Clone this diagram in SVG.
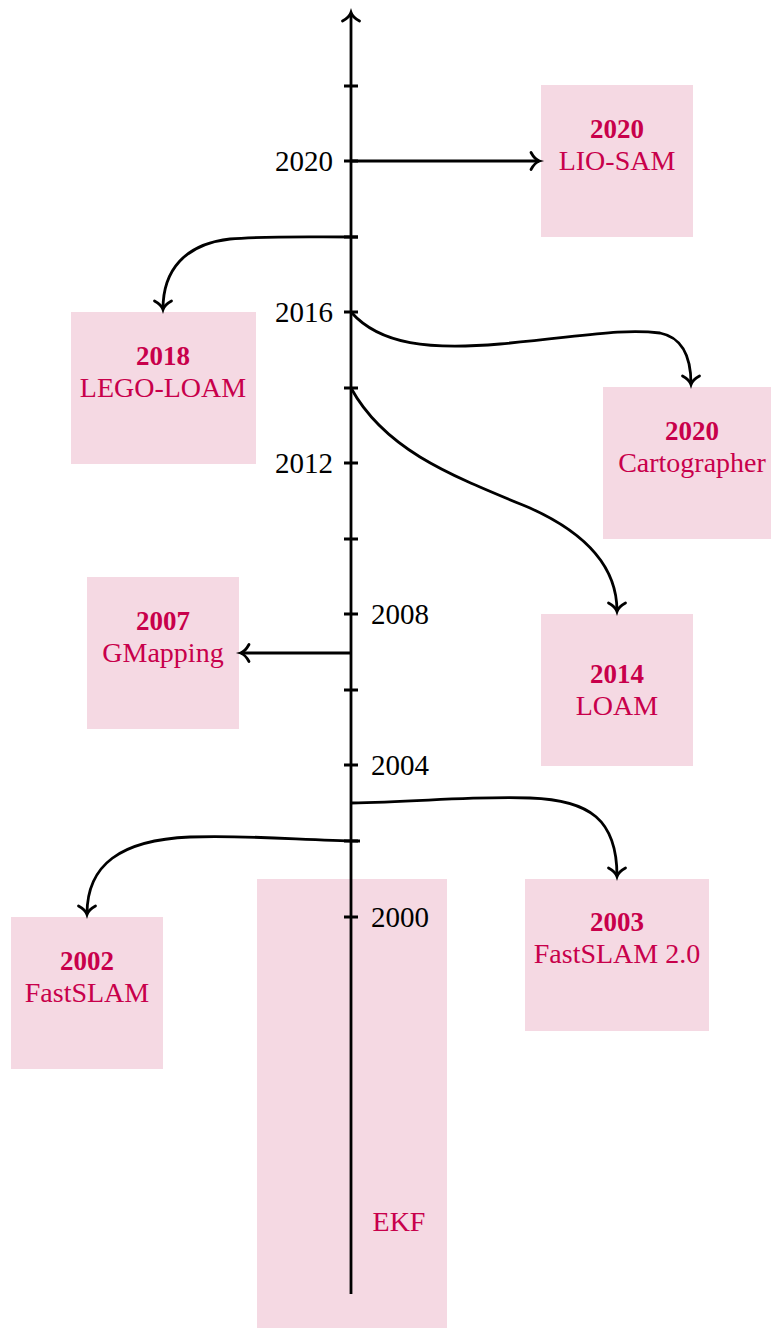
<svg xmlns="http://www.w3.org/2000/svg" width="771" height="1328" viewBox="0 0 771 1328">
<style>
.box{fill:#f5d9e3}
.t{font-family:"Liberation Serif","DejaVu Serif",serif;font-size:28px;fill:#c8004b;text-anchor:middle}
.b{font-weight:bold;font-size:27px}
.ax{font-family:"Liberation Serif","DejaVu Serif",serif;font-size:29px;fill:#000}
.ln{fill:none;stroke:#000;stroke-width:2.8}
</style>
<defs>
<marker id="arr" markerUnits="userSpaceOnUse" markerWidth="24" markerHeight="24" viewBox="-12 -12 24 24" refX="0" refY="0" orient="auto" overflow="visible">
<path d="M -8 -8.5 C -5 -3 -2 -0.8 0.5 0 C -2 0.8 -5 3 -8 8.5" fill="none" stroke="#000" stroke-width="2.8" stroke-linecap="round"/>
</marker>
</defs>
<g id="node-ekf"><rect class="box" x="257" y="879" width="190" height="449"/><text class="t" x="399" y="1231">EKF</text></g>
<g id="node-liosam"><rect class="box" x="541" y="85" width="152" height="152"/><text class="t b" x="617" y="138">2020</text><text class="t" x="617" y="170">LIO-SAM</text></g>
<g id="node-legoloam"><rect class="box" x="71" y="312" width="185" height="152"/><text class="t b" x="163" y="365">2018</text><text class="t" x="163" y="397">LEGO-LOAM</text></g>
<g id="node-cartographer"><rect class="box" x="603" y="387" width="168" height="152"/><text class="t b" x="692" y="440">2020</text><text class="t" x="692" y="472">Cartographer</text></g>
<g id="node-gmapping"><rect class="box" x="87" y="577" width="152" height="152"/><text class="t b" x="163" y="630">2007</text><text class="t" x="163" y="662">GMapping</text></g>
<g id="node-loam"><rect class="box" x="541" y="614" width="152" height="152"/><text class="t b" x="617" y="683">2014</text><text class="t" x="617" y="715">LOAM</text></g>
<g id="node-fastslam2"><rect class="box" x="525" y="879" width="184" height="152"/><text class="t b" x="617" y="931">2003</text><text class="t" x="617" y="963">FastSLAM 2.0</text></g>
<g id="node-fastslam"><rect class="box" x="11" y="917" width="152" height="152"/><text class="t b" x="87" y="970">2002</text><text class="t" x="87" y="1002">FastSLAM</text></g>
<g id="axis">
<line class="ln" x1="351" y1="1294" x2="351" y2="13" marker-end="url(#arr)"/>
<path class="ln" d="M344 86H358M344 161H358M344 237H358M344 312H358M344 388H358M344 463H358M344 539H358M344 614H358M344 690H358M344 765H358M344 841H358M344 917H358"/>
<text class="ax" x="333" y="171" text-anchor="end">2020</text>
<text class="ax" x="333" y="322" text-anchor="end">2016</text>
<text class="ax" x="333" y="473" text-anchor="end">2012</text>
<text class="ax" x="371" y="624">2008</text>
<text class="ax" x="371" y="775">2004</text>
<text class="ax" x="371" y="927">2000</text>
</g>
<g id="connectors">
<path class="ln" d="M351 161H539" marker-end="url(#arr)"/>
<path class="ln" d="M358 237C300 237 260 236 230 239C185 244 163 270 163 309" marker-end="url(#arr)"/>
<path class="ln" d="M351 312C380 345 430 350 500 344C580 337 620 328 660 333C685 338 691 360 691 384" marker-end="url(#arr)"/>
<path class="ln" d="M351 388C385 450 450 475 530 508C590 535 617 570 617 611" marker-end="url(#arr)"/>
<path class="ln" d="M351 653H241" marker-end="url(#arr)"/>
<path class="ln" d="M351 803C420 802 470 796 530 798C590 800 617 820 617 876" marker-end="url(#arr)"/>
<path class="ln" d="M360 841C300 840 250 835 190 837C120 840 87 865 87 914" marker-end="url(#arr)"/>
</g>
</svg>
